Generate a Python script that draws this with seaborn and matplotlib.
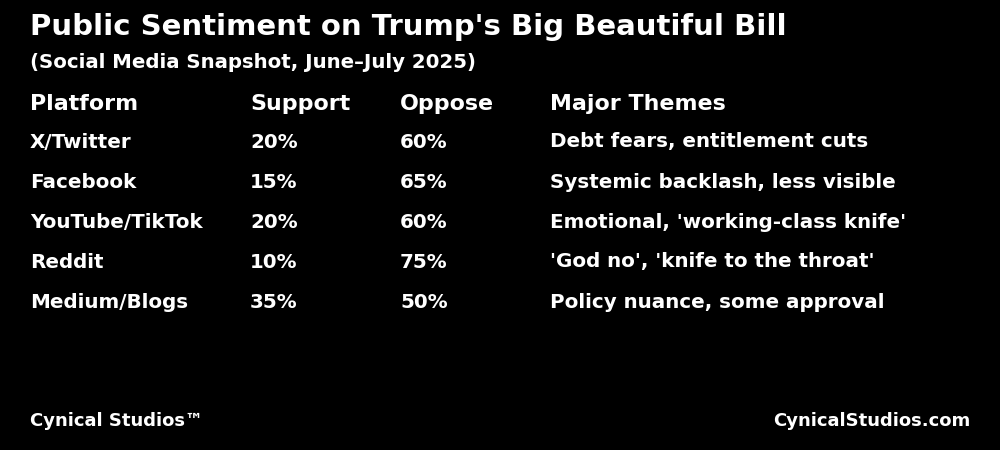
import matplotlib
matplotlib.use("Agg")
import matplotlib.pyplot as plt
import seaborn as sns

title = "Public Sentiment on Trump's Big Beautiful Bill"
subtitle = "(Social Media Snapshot, June–July 2025)"
headers = ["Platform", "Support", "Oppose", "Major Themes"]
platforms = ["X/Twitter", "Facebook", "YouTube/TikTok", "Reddit", "Medium/Blogs"]
support = [20, 15, 20, 10, 35]
oppose = [60, 65, 60, 75, 50]
themes = [
    "Debt fears, entitlement cuts",
    "Systemic backlash, less visible",
    "Emotional, 'working-class knife'",
    "'God no', 'knife to the throat'",
    "Policy nuance, some approval",
]

sns.set_theme(style="dark", rc={"figure.facecolor": "black", "axes.facecolor": "black"})
plt.rcParams['font.family'] = ['DejaVu Sans']

W, H = 1000, 450
fig = plt.figure(figsize=(W / 100, H / 100), dpi=100)
fig.patch.set_facecolor("black")


def put(x, y, s, size, ha="left"):
    # pixel coords from top-left
    fig.text(x / W, 1 - y / H, s, color="white", fontsize=size,
             fontweight="bold", ha=ha, va="center")


put(30, 27, title, 21)
put(30, 62, subtitle, 14.2)

cols = [30, 250, 400, 550]
for x, h in zip(cols, headers):
    put(x, 104, h, 15.9)

for i, (p, s, o, t) in enumerate(zip(platforms, support, oppose, themes)):
    y = 142 + 40 * i
    put(cols[0], y, p, 14.3)
    put(cols[1], y, f"{s}%", 14.3)
    put(cols[2], y, f"{o}%", 14.3)
    put(cols[3], y, t, 14.3)

put(30, 421, "Cynical Studios™", 13)
put(970, 421, "CynicalStudios.com", 13, ha="right")

fig.savefig("out.png", dpi=100, facecolor="black")
